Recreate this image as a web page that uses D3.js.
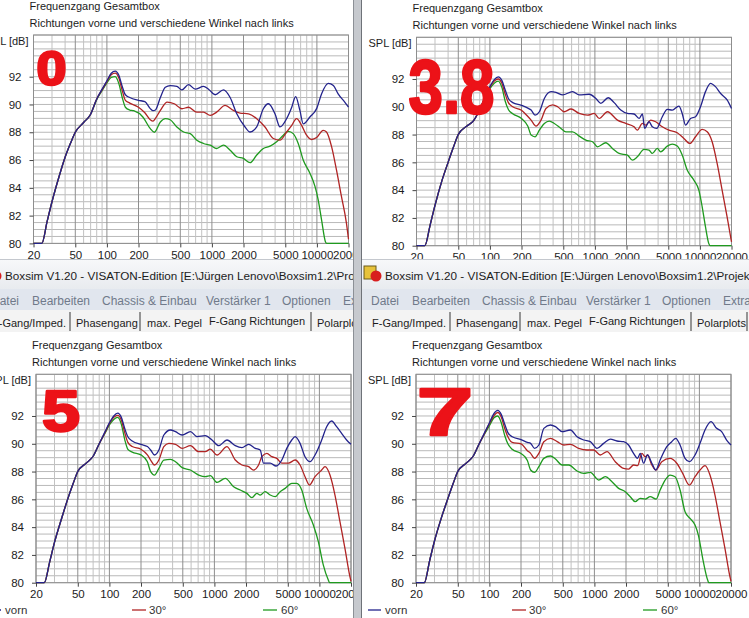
<!DOCTYPE html>
<html>
<head>
<meta charset="utf-8">
<script src="https://cdn.jsdelivr.net/npm/d3@7"></script>
<style>
  body { margin: 0; background: #fff; }
  svg { display: block; }
</style>
</head>
<body>
<div id="chart"></div>
<script>
// tick labels and names
const xTicks = [20, 50, 100, 200, 500, 1000, 2000, 5000, 10000, 20000];
const yTicks = [80, 82, 84, 86, 88, 90, 92];
const seriesNames = ["vorn", "30°", "60°"];
const panelLabels = ["0", "3.8", "5", "7"];
const chartTitle = "Frequenzgang Gesamtbox";
const chartSubtitle = "Richtungen vorne und verschiedene Winkel nach links";
const yLabel = "SPL [dB]";
const windowTitle = "Boxsim V1.20 - VISATON-Edition [E:\\Jürgen Lenovo\\Boxsim1.2\\Projekte\\Gesamtbox.bxs]";
const menuItems = ["Datei", "Bearbeiten", "Chassis & Einbau", "Verstärker 1", "Optionen", "Extras"];
const tabItems = ["F-Gang/Imped.", "Phasengang", "max. Pegel", "F-Gang Richtungen", "Polarplots"];

// [frequency Hz, SPL dB]
const p0Vorn = [[20,80],[24,80],[27,81.6],[30,83.0],[35,84.8],[40,86.2],[45,87.2],[50,88.0],[60,88.7],[70,89.3],[80,90.4],[90,91.1],[100,91.7],[110,92.25],[120,92.4],[130,92.1],[140,91.3],[150,90.7],[165,90.5],[200,90.3],[230,90.2],[259,89.7],[275,89.55],[290,89.6],[323,90.5],[360,91.24],[401,91.36],[464,91.3],[518,91.05],[599,91.43],[693,91.1],[832,91.3],[928,91.1],[1073,90.7],[1289,91.05],[1492,90.5],[1726,89.33],[2070,88.38],[2310,88.02],[2672,88.38],[3089,89.69],[3450,90.05],[3990,89.33],[4450,88.38],[5150,88.98],[5760,89.8],[6270,90.57],[6890,89.57],[7410,88.6],[8580,89.1],[9940,89.7],[11070,90.76],[12800,91.52],[14360,91.36],[15930,90.76],[18420,90.17],[20000,89.8]];
const p0Red = [[20,80],[24,80],[27,81.6],[30,83.0],[35,84.8],[40,86.2],[45,87.2],[50,88.0],[60,88.7],[70,89.3],[80,90.4],[90,91.05],[100,91.65],[110,92.15],[120,92.25],[130,91.9],[140,91.0],[150,90.3],[165,90.1],[200,89.8],[230,89.4],[259,88.9],[275,88.8],[290,89.0],[323,89.57],[375,90.17],[438,90.05],[518,89.69],[599,89.8],[718,89.45],[832,89.45],[964,89.21],[1110,89.45],[1337,89.93],[1605,89.57],[1855,89.38],[2230,89.33],[2672,88.98],[3206,88.38],[3846,87.55],[4450,87.43],[5150,88.02],[5760,88.5],[6400,88.98],[7150,88.5],[7970,87.79],[8900,87.48],[9940,87.62],[11480,88.14],[12340,88.02],[13820,86.95],[15360,85.29],[17130,83.38],[19100,81.48],[20000,80.3]];
const p0Green = [[20,80],[24,80],[27,81.6],[30,83.0],[35,84.8],[40,86.2],[45,87.2],[50,88.0],[60,88.7],[70,89.3],[80,90.35],[90,91.0],[100,91.55],[110,91.95],[120,92.0],[130,91.5],[140,90.5],[150,89.8],[165,89.6],[180,89.55],[220,89.1],[259,88.26],[283,88.0],[323,88.74],[360,88.98],[401,88.9],[464,88.38],[538,88.02],[622,87.9],[718,87.43],[832,87.19],[964,87.07],[1110,86.83],[1289,87.07],[1492,86.71],[1726,86.24],[1995,86.12],[2310,85.81],[2672,86.36],[3089,86.83],[3580,87.0],[4140,87.31],[4790,87.79],[5350,88.07],[5950,87.9],[6640,87.19],[7410,86.0],[8580,85.05],[9590,84.1],[10290,83.14],[11070,81.71],[12080,80.1],[12400,80],[20000,80]];

const p1Vorn = [[20,80],[24,80],[27,81.5],[30,82.9],[35,84.7],[40,86.0],[45,87.1],[50,88.0],[60,88.6],[70,89.0],[80,89.8],[90,90.7],[100,91.45],[110,91.95],[120,92.15],[130,91.9],[140,91.2],[150,90.6],[165,90.3],[200,90.1],[230,89.9],[247,89.76],[269,89.4],[296,89.64],[330,90.6],[382,91.09],[426,91.04],[493,90.85],[613,91.09],[709,90.85],[882,90.9],[1021,90.6],[1139,90.25],[1337,90.65],[1525,90.3],[1764,89.76],[2041,89.52],[2361,89.48],[2634,89.16],[2833,89.48],[2981,88.44],[3277,88.92],[3525,88.56],[3874,88.44],[4385,89.28],[4892,89.81],[5456,89.76],[6311,90.05],[6788,89.52],[7300,88.68],[8146,89.16],[9087,89.28],[10138,90.0],[11308,91.09],[12614,91.69],[14072,91.45],[15698,90.97],[18163,90.49],[20000,89.88]];
const p1Red = [[20,80],[24,80],[27,81.5],[30,82.9],[35,84.7],[40,86.0],[45,87.1],[50,88.0],[60,88.6],[70,89.0],[80,89.8],[90,90.7],[100,91.4],[110,91.85],[120,92.0],[130,91.7],[140,90.9],[150,90.3],[165,90.0],[200,89.75],[230,89.3],[247,89.04],[275,88.61],[307,89.04],[342,89.88],[396,90.13],[442,90.0],[511,89.64],[591,89.84],[709,89.52],[851,89.4],[985,89.52],[1098,89.16],[1318,89.64],[1640,89.04],[1968,88.8],[2361,88.56],[2540,88.32],[2833,88.8],[3047,88.68],[3399,89.04],[3791,88.92],[4385,88.56],[5073,88.32],[6085,88.13],[7039,87.72],[8031,87.36],[9087,87.84],[10514,88.37],[11729,88.2],[13083,87.48],[14595,85.92],[16282,84.0],[18163,82.07],[20000,80.27]];
const p1Green = [[20,80],[24,80],[27,81.5],[30,82.9],[35,84.7],[40,86.0],[45,87.1],[50,88.0],[60,88.6],[70,89.0],[80,89.8],[90,90.65],[100,91.3],[110,91.7],[120,91.85],[130,91.4],[140,90.4],[150,89.8],[165,89.5],[200,89.15],[230,88.6],[247,87.96],[269,87.84],[296,88.32],[330,88.8],[368,88.97],[411,88.8],[475,88.44],[530,88.2],[613,88.2],[709,87.89],[820,87.6],[949,87.48],[1059,87.12],[1270,87.41],[1470,87.0],[1701,86.64],[2041,86.52],[2276,86.16],[2540,86.4],[2938,86.93],[3277,86.88],[3525,86.64],[3931,87.0],[4228,86.76],[4892,87.17],[5456,87.31],[6085,87.17],[6788,86.52],[7571,85.44],[8762,84.72],[9774,84.0],[10514,82.8],[11308,81.35],[12163,80.15],[12500,80],[20000,80]];

const p2Vorn = [[20,80],[24,80],[27,81.5],[30,82.9],[35,84.6],[40,86.0],[45,87.1],[50,88.0],[60,88.6],[70,89.1],[80,90.0],[90,90.8],[100,91.5],[110,92.0],[120,92.2],[130,91.9],[140,91.1],[150,90.5],[165,90.2],[200,89.95],[230,89.8],[247,89.55],[269,89.19],[296,89.55],[330,90.63],[382,90.99],[426,90.87],[493,90.63],[591,90.87],[684,90.51],[820,90.58],[949,90.27],[1098,89.86],[1318,90.27],[1581,89.86],[1829,89.72],[2116,89.96],[2449,89.67],[2731,89.55],[2938,88.6],[3399,88.6],[3874,88.4],[4385,88.83],[4892,89.67],[5456,90.27],[5868,90.51],[6545,90.03],[7300,89.07],[8146,88.71],[9087,89.19],[10514,90.27],[11729,91.23],[13083,91.64],[14595,91.23],[16282,90.75],[18163,90.27],[20000,89.96]];
const p2Red = [[20,80],[24,80],[27,81.5],[30,82.9],[35,84.6],[40,86.0],[45,87.1],[50,88.0],[60,88.6],[70,89.1],[80,90.0],[90,90.75],[100,91.45],[110,91.9],[120,92.05],[130,91.7],[140,90.8],[150,90.1],[165,89.8],[200,89.6],[230,89.2],[247,88.83],[269,88.47],[296,88.83],[330,89.79],[368,90.03],[426,89.96],[493,89.67],[591,89.86],[709,89.43],[820,89.43],[915,89.62],[1059,89.19],[1318,89.79],[1581,88.83],[1829,88.47],[2116,88.35],[2361,88.11],[2634,88.47],[2833,89.07],[3160,89.31],[3525,89.07],[3931,88.95],[4385,88.6],[5073,88.6],[5868,88.83],[6545,88.47],[7300,87.63],[8031,87.03],[9087,87.63],[10514,88.11],[11308,88.35],[12614,87.75],[14072,86.31],[15698,84.39],[17513,82.47],[19535,80.43],[20000,80.1]];
const p2Green = [[20,80],[24,80],[27,81.5],[30,82.9],[35,84.6],[40,86.0],[45,87.1],[50,88.0],[60,88.6],[70,89.1],[80,90.0],[90,90.7],[100,91.35],[110,91.75],[120,91.9],[130,91.4],[140,90.3],[150,89.6],[165,89.4],[200,89.2],[230,88.7],[247,87.99],[269,87.75],[296,88.23],[330,88.83],[382,88.88],[426,88.71],[493,88.28],[591,88.11],[709,87.75],[820,87.63],[915,87.7],[1059,87.22],[1270,87.51],[1525,86.91],[1764,86.67],[2041,86.43],[2276,86.12],[2540,86.43],[2731,86.31],[3047,86.55],[3399,86.31],[3791,86.19],[4228,86.55],[4717,86.79],[5456,87.15],[6085,87.15],[6788,86.67],[7571,85.35],[8762,84.15],[9774,82.95],[10904,81.27],[12163,80.19],[12500,80],[20000,80]];

const p3Vorn = [[20,80],[24,80],[27,81.6],[30,83.0],[35,84.7],[40,86.0],[45,87.1],[50,88.0],[60,88.6],[70,89.1],[80,90.0],[90,90.8],[100,91.5],[110,92.15],[120,92.4],[130,92.1],[140,91.4],[150,90.8],[165,90.5],[200,90.3],[230,90.1],[247,90.03],[269,89.67],[296,89.91],[330,91.11],[382,91.35],[426,91.23],[493,90.87],[591,90.99],[684,90.51],[791,90.27],[915,90.15],[1059,89.67],[1225,90.03],[1418,90.34],[1640,90.2],[1897,90.15],[2116,89.91],[2361,89.31],[2576,88.95],[2731,89.31],[2938,88.6],[3206,89.19],[3525,88.6],[3846,88.11],[4228,88.83],[4892,89.79],[5456,90.15],[5954,90.39],[6545,89.91],[7300,88.95],[8031,88.71],[9087,89.19],[10138,90.03],[11308,90.99],[12895,91.59],[14595,91.11],[16282,90.87],[18163,90.27],[20000,89.91]];
const p3Red = [[20,80],[24,80],[27,81.6],[30,83.0],[35,84.7],[40,86.0],[45,87.1],[50,88.0],[60,88.6],[70,89.1],[80,90.0],[90,90.75],[100,91.45],[110,92.0],[120,92.25],[130,91.9],[140,91.1],[150,90.5],[165,90.1],[200,90.0],[230,89.5],[247,89.31],[269,88.95],[296,89.31],[330,90.15],[382,90.39],[442,90.15],[511,89.91],[591,89.96],[709,89.67],[851,89.55],[985,89.55],[1139,89.19],[1318,89.43],[1581,88.71],[1897,88.23],[2116,88.18],[2361,88.47],[2576,88.42],[2833,89.31],[3047,89.07],[3206,89.19],[3525,88.47],[3846,88.11],[4385,88.71],[5261,88.95],[6085,88.6],[6938,87.87],[8031,87.03],[9087,87.63],[10138,88.11],[11308,88.42],[12614,87.75],[14072,86.31],[15698,84.39],[17513,82.47],[19535,80.43],[20000,80.1]];
const p3Green = [[20,80],[24,80],[27,81.6],[30,83.0],[35,84.7],[40,86.0],[45,87.1],[50,88.0],[60,88.6],[70,89.1],[80,90.0],[90,90.7],[100,91.3],[110,91.85],[120,92.0],[130,91.5],[140,90.6],[150,90.0],[165,89.6],[200,89.3],[230,88.8],[247,88.11],[269,87.94],[296,88.35],[330,88.95],[382,89.12],[426,88.9],[493,88.47],[570,88.47],[684,88.04],[791,87.87],[915,87.94],[1098,87.39],[1270,87.63],[1470,87.27],[1701,86.79],[1968,86.55],[2195,86.19],[2449,85.83],[2731,86.07],[3047,86.02],[3399,86.19],[3874,86.02],[4228,86.67],[4717,87.39],[5261,87.75],[5868,87.63],[6545,86.67],[7300,85.11],[8146,84.63],[9087,84.15],[9774,83.43],[10904,81.51],[11988,80.19],[12300,80],[20000,80]];

const FONT = '"Liberation Sans", Arial, sans-serif';
const colors = ["#23238c", "#b02424", "#1f9a1f"];
const W = 749, H = 618;

// every window is drawn in the coordinates of the lower right one, then shifted
const panels = [
    { series: [p0Vorn, p0Red, p0Green], dx: -382.5, dy: -339.3, clip: [0, 0, 353, 259], chrome: false,
      mark: { x: 419, y: 424, size: 48, len: 30 } },
    { series: [p1Vorn, p1Red, p1Green], dx: 0.5, dy: -337, clip: [362, 0, 387, 259], chrome: false,
      mark: { x: 408, y: 450, size: 76, len: 86 } },
    { series: [p2Vorn, p2Red, p2Green], dx: -380, dy: 0, clip: [0, 259, 353, 359], chrome: true,
      mark: { x: 422, y: 431, size: 58, len: 38 } },
    { series: [p3Vorn, p3Red, p3Green], dx: 0, dy: 0, clip: [362, 259, 387, 359], chrome: true,
      mark: { x: 417, y: 435, size: 66, len: 56 } }
];

const svg = d3.select("#chart")
    .append("svg")
    .attr("width", W)
    .attr("height", H)
    .style("font-family", FONT);

svg.append("rect").attr("width", W).attr("height", H).attr("fill", "#fff");

const defs = svg.append("defs");
const grad = defs.append("linearGradient").attr("id", "tbar")
    .attr("x1", 0).attr("y1", 0).attr("x2", 0).attr("y2", 1);
grad.append("stop").attr("offset", "0%").attr("stop-color", "#f7f8fa");
grad.append("stop").attr("offset", "100%").attr("stop-color", "#e8ebef");

// scales (window coordinates)
const x = d3.scaleLog().domain([20, 20000]).range([416, 731]);
const y = d3.scaleLinear().domain([80, 95]).range([582.7, 374.3]);

function drawChrome(g) {
    // title bar
    g.append("rect").attr("x", 355).attr("y", 259).attr("width", 420).attr("height", 30).attr("fill", "url(#tbar)");
    g.append("line").attr("x1", 355).attr("x2", 775).attr("y1", 259.5).attr("y2", 259.5).attr("stroke", "#c4c8ce");
    g.append("rect").attr("x", 364).attr("y", 266).attr("width", 12).attr("height", 13)
        .attr("fill", "#e6c23a").attr("stroke", "#6b5a1a");
    g.append("circle").attr("cx", 376).attr("cy", 276).attr("r", 5.5).attr("fill", "#d81e1e");
    g.append("text").attr("x", 385).attr("y", 279.5).attr("font-size", 11.7).attr("fill", "#1c1c1c").text(windowTitle);

    // menu bar
    g.append("rect").attr("x", 355).attr("y", 289).attr("width", 420).attr("height", 21).attr("fill", "#e1e6ee");
    const menuX = [371, 412, 482, 586, 662, 723];
    menuItems.forEach((m, i) => {
        g.append("text").attr("x", menuX[i]).attr("y", 305).attr("font-size", 12).attr("fill", "#707a8a").text(m);
    });

    // tab row
    g.append("rect").attr("x", 355).attr("y", 310).attr("width", 420).attr("height", 22).attr("fill", "#f3f3f3");
    const tabX = [372, 456, 527, 589, 697];
    tabItems.forEach((t, i) => {
        g.append("text").attr("x", tabX[i]).attr("y", i === 3 ? 325 : 327)
            .attr("font-size", 11).attr("fill", "#1c1c1c").text(t);
    });
    [450, 520, 691, 747].forEach(sx => {
        g.append("line").attr("x1", sx).attr("x2", sx).attr("y1", 312).attr("y2", 331)
            .attr("stroke", "#555").attr("stroke-width", 1.2);
    });
}

function drawChart(g, p, idx) {
    g.append("text").attr("x", 412).attr("y", 349).attr("font-size", 11).attr("fill", "#1c1c1c").text(chartTitle);
    g.append("text").attr("x", 412).attr("y", 366).attr("font-size", 11).attr("fill", "#1c1c1c").text(chartSubtitle);
    g.append("text").attr("x", 411).attr("y", 384).attr("text-anchor", "end")
        .attr("font-size", 11).attr("fill", "#1c1c1c").text(yLabel);

    const [x0, x1] = x.range();
    const [y0, y1] = y.range();

    // grid
    const grid = g.append("g");
    d3.range(80, 95.001, 0.5).forEach(v => {
        grid.append("line").attr("x1", x0).attr("x2", x1).attr("y1", y(v)).attr("y2", y(v))
            .attr("stroke", "#b9b9b9").attr("stroke-width", 1);
    });
    const minors = [];
    [10, 100, 1000, 10000].forEach(d => {
        for (let k = 2; k <= 9; k++) {
            const f = k * d;
            if (f > 20 && f < 20000 && !xTicks.includes(f)) minors.push(f);
        }
    });
    minors.forEach(f => {
        grid.append("line").attr("x1", x(f)).attr("x2", x(f)).attr("y1", y1).attr("y2", y0)
            .attr("stroke", "#c2c2c2").attr("stroke-width", 1);
    });
    xTicks.forEach(f => {
        grid.append("line").attr("x1", x(f)).attr("x2", x(f)).attr("y1", y1).attr("y2", y0)
            .attr("stroke", "#8e8e8e").attr("stroke-width", 1);
    });
    grid.append("rect").attr("x", x0).attr("y", y1).attr("width", x1 - x0).attr("height", y0 - y1)
        .attr("fill", "none").attr("stroke", "#8e8e8e");

    // axes
    g.append("g")
        .attr("transform", `translate(${x0},0)`)
        .call(d3.axisLeft(y).tickValues(yTicks).tickSize(4).tickPadding(8))
        .attr("font-size", 11.5).attr("font-family", FONT)
        .call(a => a.select(".domain").remove())
        .call(a => a.selectAll("line").attr("stroke", "#444"))
        .call(a => a.selectAll("text").attr("fill", "#1c1c1c"));

    g.append("g")
        .attr("transform", `translate(0,${y0})`)
        .call(d3.axisBottom(x).tickValues(xTicks).tickFormat(d => String(d)).tickSize(4).tickPadding(3))
        .attr("font-size", 11.5).attr("font-family", FONT)
        .call(a => a.select(".domain").remove())
        .call(a => a.selectAll("line").attr("stroke", "#444"))
        .call(a => a.selectAll("text").attr("fill", "#1c1c1c"));

    // curves, 60° first so vorn sits on top
    const line = d3.line()
        .x(d => x(d[0]))
        .y(d => y(d[1]))
        .curve(d3.curveMonotoneX);
    [2, 1, 0].forEach(s => {
        g.append("path")
            .datum(p.series[s])
            .attr("fill", "none")
            .attr("stroke", colors[s])
            .attr("stroke-width", 1.3)
            .attr("stroke-linejoin", "round")
            .attr("d", line);
    });

    // legend (only the lower windows show it, the upper ones are covered there)
    if (p.chrome) {
        const legX = [[368, 381, 385], [512, 526, 529], [643, 657, 661]];
        seriesNames.forEach((name, s) => {
            g.append("line").attr("x1", legX[s][0]).attr("x2", legX[s][1]).attr("y1", 610).attr("y2", 610)
                .attr("stroke", colors[s]).attr("stroke-width", 1.3);
            g.append("text").attr("x", legX[s][2]).attr("y", 614).attr("font-size", 11.5)
                .attr("fill", "#333").text(name);
        });
    }

    // red marker number written over the plot
    g.append("text")
        .attr("x", p.mark.x).attr("y", p.mark.y)
        .attr("font-size", p.mark.size).attr("font-weight", "bold")
        .attr("textLength", p.mark.len).attr("lengthAdjust", "spacingAndGlyphs")
        .attr("fill", "#ec1218").attr("stroke", "#ec1218").attr("stroke-width", 2.5)
        .attr("stroke-linejoin", "round")
        .text(panelLabels[idx]);
}

panels.forEach((p, i) => {
    defs.append("clipPath").attr("id", "clip" + i)
        .append("rect")
        .attr("x", p.clip[0]).attr("y", p.clip[1])
        .attr("width", p.clip[2]).attr("height", p.clip[3]);
    const outer = svg.append("g").attr("clip-path", `url(#clip${i})`);
    outer.append("rect")
        .attr("x", p.clip[0]).attr("y", p.clip[1])
        .attr("width", p.clip[2]).attr("height", p.clip[3])
        .attr("fill", "#fff");
    const g = outer.append("g").attr("transform", `translate(${p.dx},${p.dy})`);
    if (p.chrome) drawChrome(g);
    drawChart(g, p, i);
});

// frame between the left and right windows
svg.append("rect").attr("x", 353).attr("y", 0).attr("width", 9).attr("height", H).attr("fill", "#c6c9ce");
svg.append("line").attr("x1", 353.5).attr("x2", 353.5).attr("y1", 0).attr("y2", H).attr("stroke", "#8c9096");
svg.append("line").attr("x1", 361.5).attr("x2", 361.5).attr("y1", 0).attr("y2", H).attr("stroke", "#6e7278");
</script>
</body>
</html>
